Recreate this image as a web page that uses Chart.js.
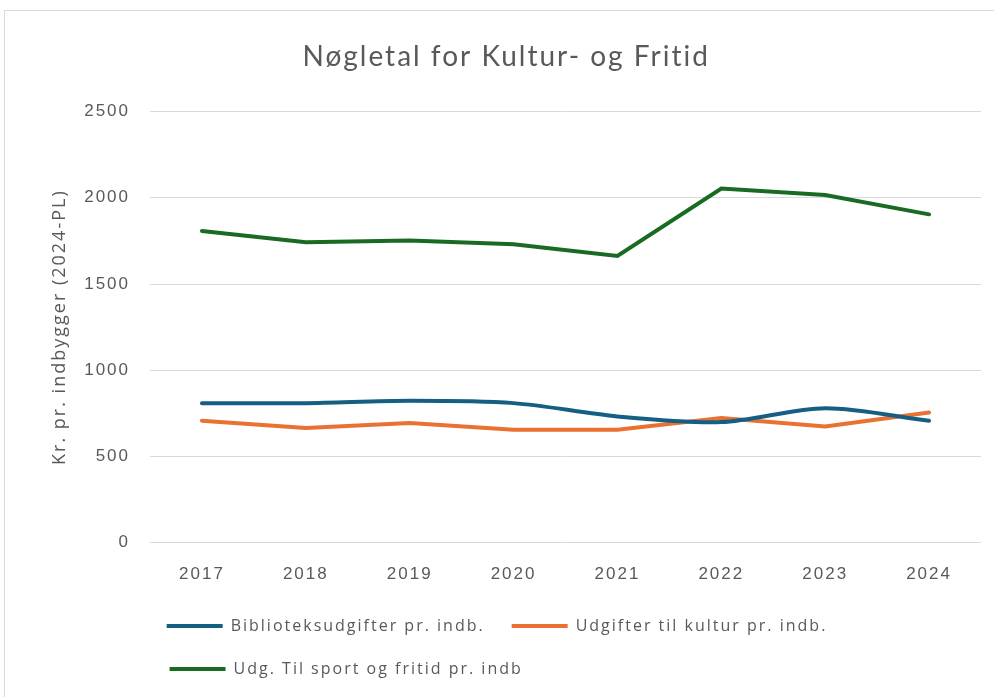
<!DOCTYPE html>
<html lang="da">
<head>
  <meta charset="UTF-8">
  <title>Nøgletal for Kultur- og Fritid</title>
  <script src="https://cdn.jsdelivr.net/npm/chart.js"></script>
  <style>
    html, body { margin: 0; padding: 0; background: #fff; overflow: hidden; }
    .container {
      position: absolute; left: 4px; top: 10px;
      width: 1000px; height: 700px;
      border: 1px solid #d9d9d9; box-sizing: border-box;
    }
  </style>
</head>
<body>
  <div class="container">
    <canvas id="kulturChart"></canvas>
  </div>

  <script>
    // years on the x axis
    const years = ['2017', '2018', '2019', '2020', '2021', '2022', '2023', '2024'];

    // kr. pr. indbygger (2024-PL)
    const bibliotek = [809, 809, 823, 809, 732, 699, 780, 707];
    const kultur    = [707, 665, 694, 655, 655, 722, 674, 755];
    const sport     = [1808, 1742, 1752, 1730, 1663, 2054, 2016, 1904];

    const seriesNames = [
      'Biblioteksudgifter pr. indb.',
      'Udgifter til kultur pr. indb.',
      'Udg. Til sport og fritid pr. indb'
    ];

    const grey = '#595959';
    const tracking = '2px';
    const legendFont = { family: 'Open Sans', size: 16 };
    const legendBox = 56;
    const legendPad = 27;

    // the original text is spread out, so widen every glyph a little
    const spacing = {
      id: 'spacing',
      beforeUpdate(chart) { chart.ctx.letterSpacing = tracking; },
      beforeLayout(chart) { chart.ctx.letterSpacing = tracking; },
      beforeDraw(chart) { chart.ctx.letterSpacing = tracking; }
    };

    const ctx = document.getElementById('kulturChart').getContext('2d');
    new Chart(ctx, {
      type: 'line',
      data: {
        labels: years,
        datasets: [
          { label: seriesNames[0], data: bibliotek, borderColor: '#156082', backgroundColor: '#156082', tension: 0.3 },
          { label: seriesNames[1], data: kultur, borderColor: '#E97132', backgroundColor: '#E97132' },
          { label: seriesNames[2], data: sport, borderColor: '#196B24', backgroundColor: '#196B24' }
        ]
      },
      options: {
        responsive: true,
        maintainAspectRatio: false,
        animation: false,
        elements: {
          line: { borderWidth: 4, fill: false, borderCapStyle: 'round' },
          point: { radius: 0 }
        },
        layout: { padding: { left: 8, right: 22, top: 0, bottom: 22 } },
        plugins: {
          title: {
            display: true,
            text: '  Nøgletal for Kultur- og Fritid',
            color: grey,
            font: { family: 'Lato', size: 28, weight: 'normal' },
            padding: { top: 29, bottom: 38 }
          },
          legend: {
            position: 'bottom',
            labels: {
              color: grey,
              font: legendFont,
              boxWidth: legendBox,
              boxHeight: 4,
              padding: legendPad,
              generateLabels(chart) {
                const items = Chart.defaults.plugins.legend.labels.generateLabels(chart);
                items.forEach(it => { it.lineWidth = 0; });
                // pad the last entry so the second row starts under the first one
                const c = chart.ctx;
                c.save();
                c.font = legendFont.size + 'px "' + legendFont.family + '"';
                c.letterSpacing = tracking;
                const w = t => c.measureText(t).width;
                const target = w(items[0].text) + w(items[1].text) + legendBox + legendFont.size / 2 + legendPad;
                let t = items[2].text;
                while (w(t + ' ') <= target) t += ' ';
                c.restore();
                items[2].text = t;
                return items;
              }
            }
          },
          tooltip: { enabled: false }
        },
        scales: {
          x: {
            offset: true,
            grid: { display: false },
            border: { display: false },
            ticks: { color: grey, font: { family: 'Liberation Sans', size: 17 }, padding: 14 },
            afterFit(scale) { scale.height -= 8; }
          },
          y: {
            min: 0,
            max: 2500,
            ticks: {
              stepSize: 500,
              color: grey,
              font: { family: 'Liberation Sans', size: 17 },
              padding: 20,
              callback: v => String(v)
            },
            grid: { color: '#d9d9d9', drawTicks: false },
            border: { display: false },
            title: {
              display: true,
              text: 'Kr. pr. indbygger (2024-PL)',
              color: grey,
              font: { family: 'Open Sans', size: 18 },
              padding: { top: 36, bottom: 4 }
            },
            afterFit(scale) { scale.width = 137; }
          }
        }
      },
      plugins: [spacing]
    });
  </script>
</body>
</html>
